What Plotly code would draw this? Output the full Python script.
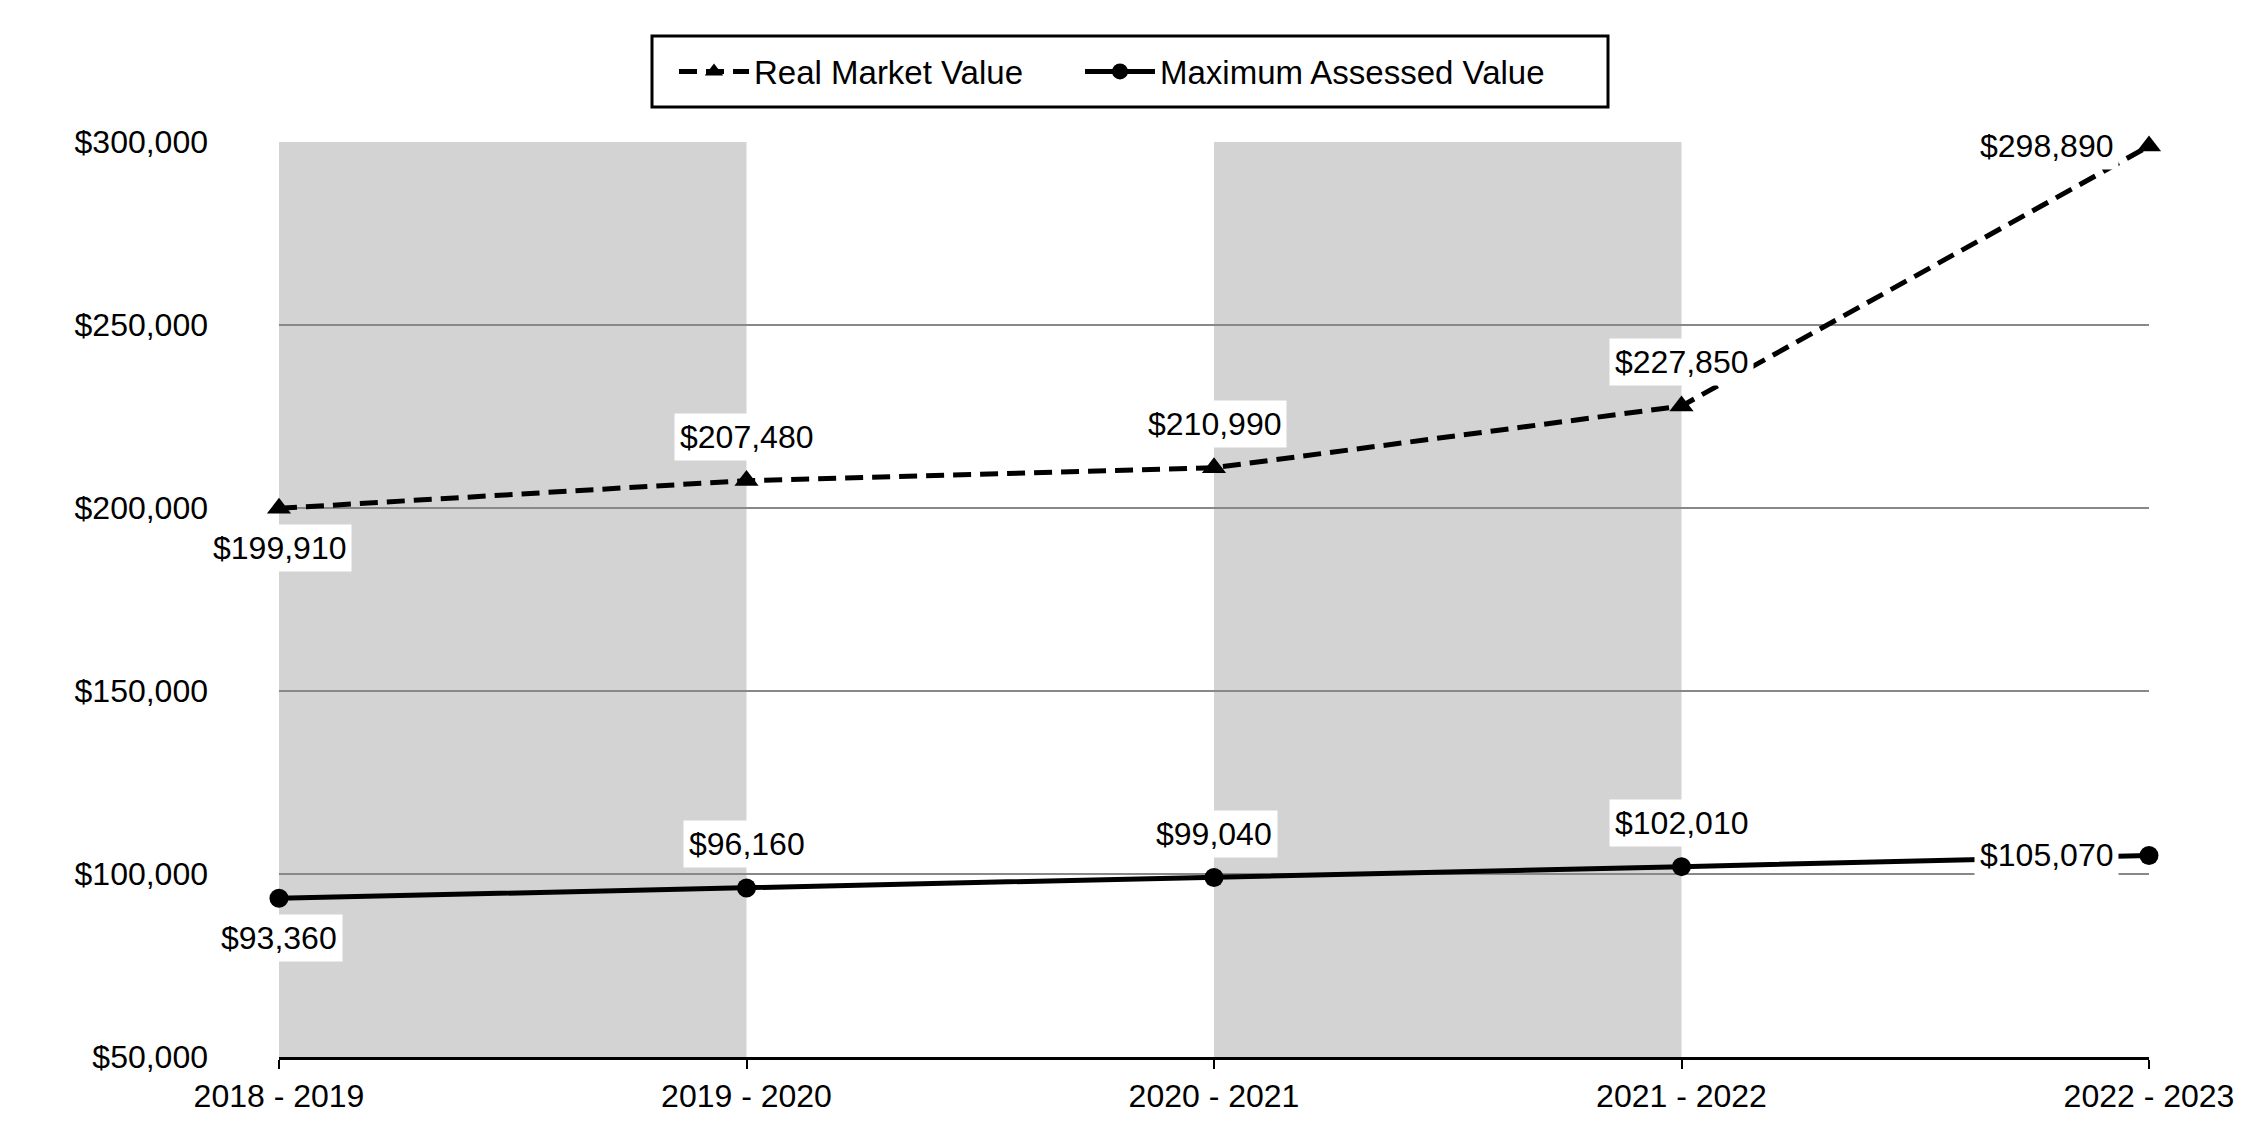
import plotly.graph_objects as go

years = ["2018 - 2019", "2019 - 2020", "2020 - 2021", "2021 - 2022", "2022 - 2023"]
real_market_value = [199910, 207480, 210990, 227850, 298890]
max_assessed_value = [93360, 96160, 99040, 102010, 105070]
y_ticks = [50000, 100000, 150000, 200000, 250000, 300000]
shaded_bands = [(0, 1), (2, 3)]

# label placement per point: 'above', 'below', 'left'
rmv_label_pos = ["below", "above", "above", "above", "left"]
mav_label_pos = ["below", "above", "above", "above", "left"]

FONT = "Liberation Sans, Arial, sans-serif"
FS = 32

W, H = 2250, 1140
L, R, T, B = 271, 109, 134, 91
PW, PH = W - L - R, H - T - B

fig = go.Figure()

fig.add_trace(go.Scatter(
    x=years, y=real_market_value, name="Real Market Value",
    mode="lines+markers",
    line=dict(color="black", width=5, dash="18px,9px"),
    marker=dict(symbol="triangle-up", size=21, color="black"),
    cliponaxis=False, legend="legend",
))
fig.add_trace(go.Scatter(
    x=years, y=max_assessed_value, name="Maximum Assessed Value",
    mode="lines+markers",
    line=dict(color="black", width=5),
    marker=dict(symbol="circle", size=19, color="black"),
    cliponaxis=False, legend="legend2",
))

for a, b in shaded_bands:
    fig.add_shape(type="rect", xref="x", yref="paper", x0=a, x1=b, y0=0, y1=1,
                  fillcolor="#d3d3d3", line=dict(width=0), layer="below")

# legend frame (figure pixel coords -> paper coords)
bx0, bx1, by0, by1 = 644, 1600, 28, 99
fig.add_shape(type="rect", xref="paper", yref="paper",
              x0=(bx0 - L) / PW, x1=(bx1 - L) / PW,
              y0=(H - B - by1) / PH, y1=(H - B - by0) / PH,
              line=dict(color="black", width=3), fillcolor="rgba(0,0,0,0)", layer="above")

def add_labels(values, positions):
    for x, v, p in zip(years, values, positions):
        kw = dict(x=x, y=v, xref="x", yref="y", text="${:,}".format(v),
                  showarrow=False, bgcolor="white", borderpad=5,
                  font=dict(family=FONT, size=FS, color="black"))
        if p == "above":
            kw.update(yanchor="middle", yshift=44)
        elif p == "below":
            kw.update(yanchor="middle", yshift=-40)
        else:
            kw.update(xanchor="right", xshift=-30, yanchor="middle")
        fig.add_annotation(**kw)

add_labels(real_market_value, rmv_label_pos)
add_labels(max_assessed_value, mav_label_pos)

legend_common = dict(
    orientation="h", xref="container", yref="container",
    xanchor="left", y=1 - (by0 + by1) / 2 / H, yanchor="middle",
    borderwidth=0, bgcolor="rgba(0,0,0,0)",
    font=dict(family=FONT, size=33, color="black"),
    itemwidth=70,
)

fig.update_layout(
    width=W, height=H,
    margin=dict(l=L, r=R, t=T, b=B),
    paper_bgcolor="white", plot_bgcolor="white",
    font=dict(family=FONT, size=FS, color="black"),
    showlegend=True,
    legend=dict(x=666 / W, **legend_common),
    legend2=dict(x=1072 / W, **legend_common),
)
fig.update_xaxes(
    type="category", range=[0, len(years) - 1],
    showgrid=False, showline=True, linecolor="black", linewidth=3,
    ticks="outside", ticklen=9, tickwidth=2, tickcolor="black",
    tickfont=dict(family=FONT, size=FS, color="black"),
    zeroline=False,
)
fig.update_yaxes(
    range=[50000, 300000], tickvals=y_ticks,
    ticktext=["${:,}".format(t) for t in y_ticks],
    showgrid=True, gridcolor="#888888", gridwidth=2,
    showline=False, zeroline=False, ticks="",
    ticklabelstandoff=70,
    tickfont=dict(family=FONT, size=FS, color="black"),
)

fig.write_html("out.html")
